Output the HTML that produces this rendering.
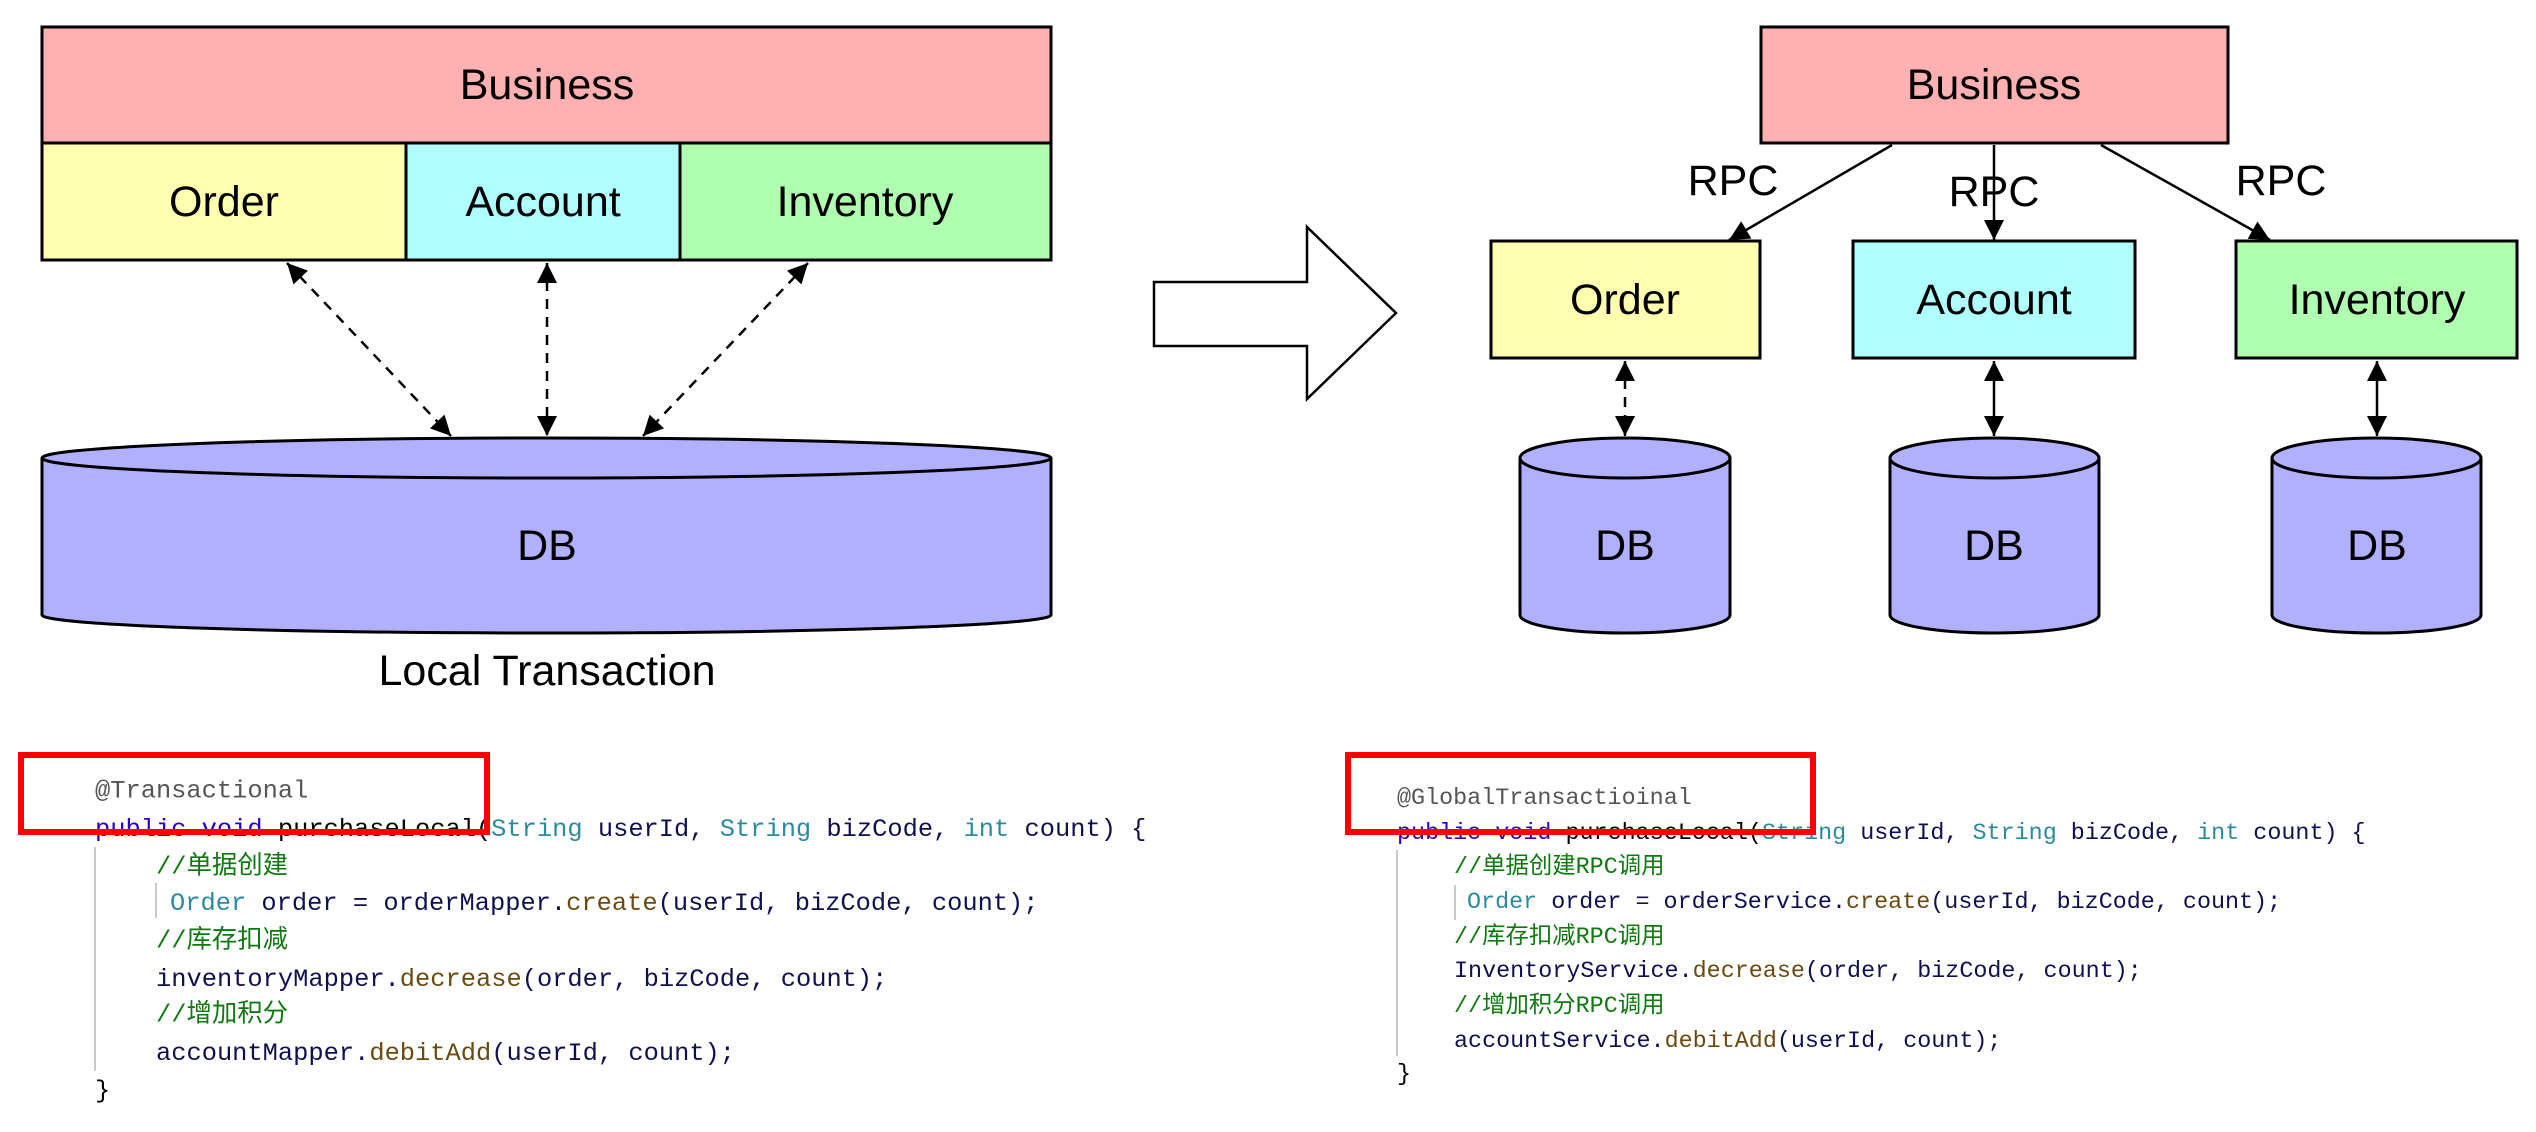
<!DOCTYPE html>
<html><head><meta charset="utf-8"><style>
html,body{margin:0;padding:0;background:#fff;}
svg{display:block}
.t{font-family:"Liberation Sans",Arial,sans-serif;font-size:43px;fill:#000;text-anchor:middle;dominant-baseline:central}
.c1{font-family:"Liberation Mono","Noto Sans CJK SC",monospace;font-size:25.4px;white-space:pre}
.c2{font-family:"Liberation Mono","Noto Sans CJK SC",monospace;font-size:23.4px;white-space:pre}
.an{fill:#555}.kw{fill:#2a00c0}.ty{fill:#2b8aa0}.id{fill:#101050}.fn{fill:#6a4a10}.cm{fill:#107810}.pl{fill:#000}
</style></head><body>
<svg width="2536" height="1132" viewBox="0 0 2536 1132" xmlns="http://www.w3.org/2000/svg">
<defs>
<marker id="ah" viewBox="0 0 10 10" refX="10" refY="5" markerWidth="11" markerHeight="8" markerUnits="strokeWidth" orient="auto-start-reverse">
<path d="M0,0 L10,5 L0,10 z" fill="#000"/></marker>
</defs>
<g stroke="#000" stroke-width="3">
<rect x="42" y="27" width="1009" height="116" fill="#ffb0b0"/>
<rect x="42" y="143" width="364" height="117" fill="#ffffb0"/>
<rect x="406" y="143" width="274" height="117" fill="#b0ffff"/>
<rect x="680" y="143" width="371" height="117" fill="#b0ffb0"/>
<path d="M42,458 L42,615 A504.5,18 0 0 0 1051,615 L1051,458 A504.5,20 0 0 0 42,458 A504.5,20 0 0 0 1051,458" fill="#b0b0ff"/>
<g stroke-width="2.5" stroke-dasharray="10,8" fill="none">
<line x1="287" y1="263" x2="451" y2="436" marker-start="url(#ah)" marker-end="url(#ah)"/>
<line x1="547" y1="263" x2="547" y2="436" marker-start="url(#ah)" marker-end="url(#ah)"/>
<line x1="808" y1="263" x2="643" y2="436" marker-start="url(#ah)" marker-end="url(#ah)"/>
</g>
<path d="M1154,282 L1307,282 L1307,227 L1396,313 L1307,399 L1307,346 L1154,346 z" fill="#fff" stroke-width="2.5"/>
<rect x="1761" y="27" width="467" height="116" fill="#ffb0b0"/>
<rect x="1491" y="241" width="269" height="117" fill="#ffffb0"/>
<rect x="1853" y="241" width="282" height="117" fill="#b0ffff"/>
<rect x="2236" y="241" width="281" height="117" fill="#b0ffb0"/>
<g stroke-width="2.5" fill="none">
<line x1="1892" y1="145" x2="1729" y2="240" marker-end="url(#ah)"/>
<line x1="1994" y1="145" x2="1994" y2="240" marker-end="url(#ah)"/>
<line x1="2101" y1="145" x2="2270" y2="240" marker-end="url(#ah)"/>
<line x1="1625" y1="361" x2="1625" y2="436" stroke-dasharray="10,8" marker-start="url(#ah)" marker-end="url(#ah)"/>
<line x1="1994" y1="361" x2="1994" y2="436" marker-start="url(#ah)" marker-end="url(#ah)"/>
<line x1="2377" y1="361" x2="2377" y2="436" marker-start="url(#ah)" marker-end="url(#ah)"/>
</g>
<path d="M1520,458 L1520,615 A105,18 0 0 0 1730,615 L1730,458 A105,20 0 0 0 1520,458 A105,20 0 0 0 1730,458" fill="#b0b0ff"/>
<path d="M1890,458 L1890,615 A104.5,18 0 0 0 2099,615 L2099,458 A104.5,20 0 0 0 1890,458 A104.5,20 0 0 0 2099,458" fill="#b0b0ff"/>
<path d="M2272,458 L2272,615 A104.5,18 0 0 0 2481,615 L2481,458 A104.5,20 0 0 0 2272,458 A104.5,20 0 0 0 2481,458" fill="#b0b0ff"/>
</g>
<text class="t" x="547" y="85">Business</text>
<text class="t" x="224" y="202">Order</text>
<text class="t" x="543" y="202">Account</text>
<text class="t" x="865" y="202">Inventory</text>
<text class="t" x="547" y="546">DB</text>
<text class="t" x="547" y="671">Local Transaction</text>
<text class="t" x="1994" y="85">Business</text>
<text class="t" x="1625" y="300">Order</text>
<text class="t" x="1994" y="300">Account</text>
<text class="t" x="2377" y="300">Inventory</text>
<text class="t" x="1733" y="181">RPC</text>
<text class="t" x="1994" y="192">RPC</text>
<text class="t" x="2281" y="181">RPC</text>
<text class="t" x="1625" y="546">DB</text>
<text class="t" x="1994" y="546">DB</text>
<text class="t" x="2377" y="546">DB</text>

<line x1="95" y1="847" x2="95" y2="1071" stroke="#c8c8c8" stroke-width="2"/>
<line x1="156" y1="883" x2="156" y2="918" stroke="#c8c8c8" stroke-width="2"/>
<g class="c1" dominant-baseline="central">
<text x="95" y="791" class="an">@Transactional</text>
<text x="95" y="829"><tspan class="kw">public void </tspan><tspan class="pl">purchaseLocal(</tspan><tspan class="ty">String </tspan><tspan class="id">userId, </tspan><tspan class="ty">String </tspan><tspan class="id">bizCode, </tspan><tspan class="ty">int </tspan><tspan class="id">count) {</tspan></text>
<text x="156" y="867" class="cm">//单据创建</text>
<text x="170" y="903"><tspan class="ty">Order </tspan><tspan class="id">order = orderMapper.</tspan><tspan class="fn">create</tspan><tspan class="id">(userId, bizCode, count);</tspan></text>
<text x="156" y="941" class="cm">//库存扣减</text>
<text x="156" y="979"><tspan class="id">inventoryMapper.</tspan><tspan class="fn">decrease</tspan><tspan class="id">(order, bizCode, count);</tspan></text>
<text x="156" y="1015" class="cm">//增加积分</text>
<text x="156" y="1053"><tspan class="id">accountMapper.</tspan><tspan class="fn">debitAdd</tspan><tspan class="id">(userId, count);</tspan></text>
<text x="95" y="1091" class="pl">}</text>
</g>
<rect x="21" y="755" width="466" height="77" fill="none" stroke="#ff0000" stroke-width="6"/>

<line x1="1397" y1="850" x2="1397" y2="1056" stroke="#c8c8c8" stroke-width="2"/>
<line x1="1455" y1="885" x2="1455" y2="920" stroke="#c8c8c8" stroke-width="2"/>
<g class="c2" dominant-baseline="central">
<text x="1397" y="799" class="an">@GlobalTransactioinal</text>
<text x="1397" y="834"><tspan class="kw">public void </tspan><tspan class="pl">purchaseLocal(</tspan><tspan class="ty">String </tspan><tspan class="id">userId, </tspan><tspan class="ty">String </tspan><tspan class="id">bizCode, </tspan><tspan class="ty">int </tspan><tspan class="id">count) {</tspan></text>
<text x="1454" y="868" class="cm">//单据创建RPC调用</text>
<text x="1467" y="903"><tspan class="ty">Order </tspan><tspan class="id">order = orderService.</tspan><tspan class="fn">create</tspan><tspan class="id">(userId, bizCode, count);</tspan></text>
<text x="1454" y="938" class="cm">//库存扣减RPC调用</text>
<text x="1454" y="972"><tspan class="id">InventoryService.</tspan><tspan class="fn">decrease</tspan><tspan class="id">(order, bizCode, count);</tspan></text>
<text x="1454" y="1007" class="cm">//增加积分RPC调用</text>
<text x="1454" y="1042"><tspan class="id">accountService.</tspan><tspan class="fn">debitAdd</tspan><tspan class="id">(userId, count);</tspan></text>
<text x="1397" y="1075" class="pl">}</text>
</g>
<rect x="1348" y="755" width="465" height="77" fill="none" stroke="#ff0000" stroke-width="6"/>
</svg>
</body></html>
